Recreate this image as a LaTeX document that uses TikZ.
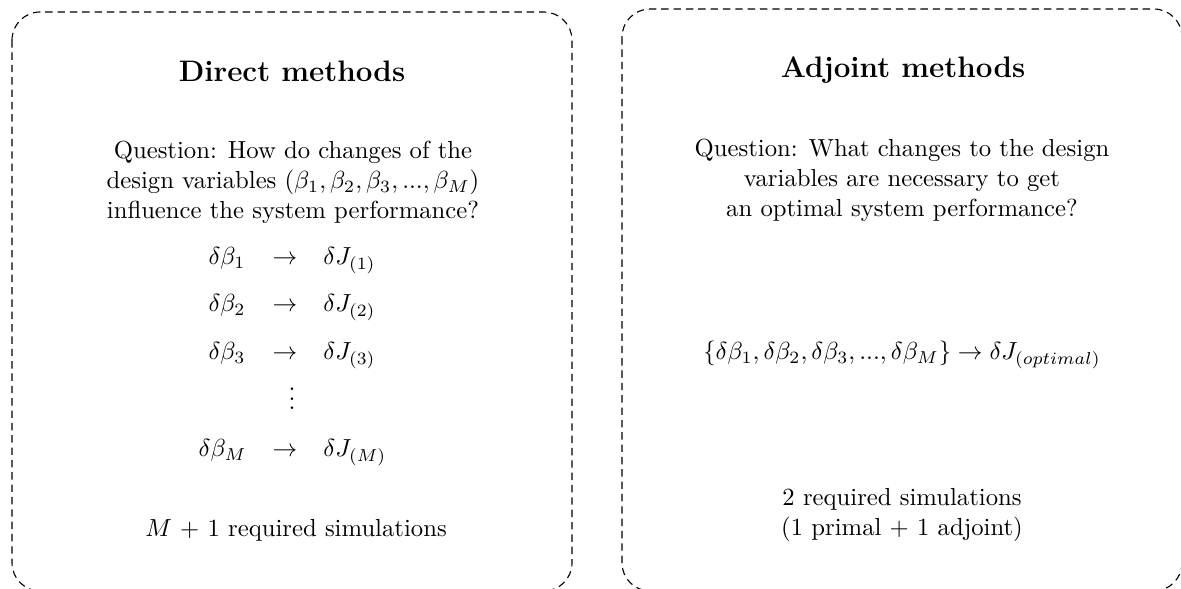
\documentclass[tikz,border=0pt]{standalone}
\usepackage{amsmath}
\begin{document}
\begin{tikzpicture}[x=0.405pt,y=-0.405pt,
  panel/.style={draw=black, densely dashed, line width=0.45pt, rounded corners=11.4pt},
  txt/.style={inner sep=0pt, anchor=base, align=center},
  ttl/.style={inner sep=0pt, anchor=base, font=\large\bfseries},
  lhs/.style={inner sep=0pt, anchor=base east},
  rhs/.style={inner sep=0pt, anchor=base west},
  mid/.style={inner sep=0pt, anchor=base}]
\useasboundingbox (0,0) rectangle (1181,589);
\clip (0,0) rectangle (1181,589);
% panels
\draw[panel] (12,12) rectangle (572,591);
\draw[panel] (622,9) rectangle (1182,591);
% left panel
\node[ttl] (lt) at (292,82) {Direct methods};
\node[txt] (lq1) at (293,159) {Question: How do changes of the};
\node[txt] (lq2) at (293,189) {design variables $(\beta_1, \beta_2, \beta_3, ..., \beta_M)$};
\node[txt] (lq3) at (293,219) {influence the system performance?};
\node[lhs] (a1) at (246,265) {$\delta\beta_1$};
\node[mid] (r1) at (285,265) {$\rightarrow$};
\node[rhs] (b1) at (323,265) {$\delta J_{(1)}$};
\node[lhs] (a2) at (246,312) {$\delta\beta_2$};
\node[mid] (r2) at (285,312) {$\rightarrow$};
\node[rhs] (b2) at (323,312) {$\delta J_{(2)}$};
\node[lhs] (a3) at (246,360) {$\delta\beta_3$};
\node[mid] (r3) at (285,360) {$\rightarrow$};
\node[rhs] (b3) at (323,360) {$\delta J_{(3)}$};
\node[mid] (dd) at (292,410) {$\vdots$};
\node[lhs] (am) at (247,457) {$\delta\beta_M$};
\node[mid] (rm) at (285,457) {$\rightarrow$};
\node[rhs] (bm) at (323,457) {$\delta J_{(M)}$};
\node[txt] (lsim) at (296,537) {$M$ + 1 required simulations};
% right panel
\node[ttl] (rt) at (903,78) {Adjoint methods};
\node[txt] (rq1) at (902,157) {Question: What changes to the design};
\node[txt] (rq2) at (902,187) {variables are necessary to get};
\node[txt] (rq3) at (902,217) {an optimal system performance?};
\node[txt] (req) at (902,360) {$\{\delta\beta_1, \delta\beta_2, \delta\beta_3, ..., \delta\beta_M\} \rightarrow \delta J_{(optimal)}$};
\node[txt] (rsim1) at (902,506) {2 required simulations};
\node[txt] (rsim2) at (902,536) {(1 primal + 1 adjoint)};
\end{tikzpicture}
\end{document}
